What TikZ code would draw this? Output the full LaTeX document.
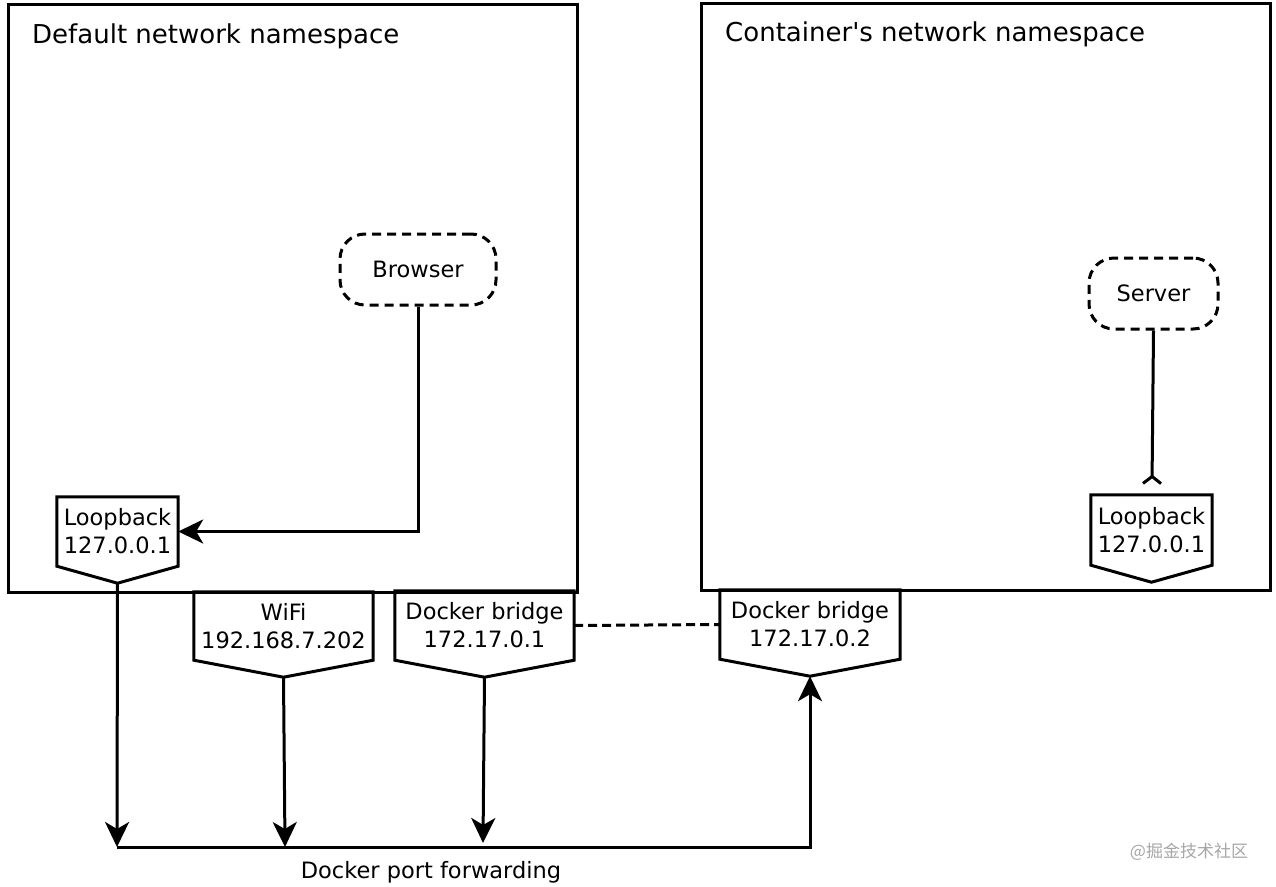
\documentclass[tikz,border=0pt]{standalone}
\usepackage{fontspec}
\setmainfont{DejaVu Sans}[Ligatures=TeXOff]
\newfontfamily\cjkfont{Noto Sans CJK SC}
\usetikzlibrary{arrows.meta}
\tikzset{
  nsbox/.style={draw, line width=3pt, inner sep=0pt},
  title/.style={anchor=base west, inner sep=0pt, font=\fontsize{26}{30}\selectfont},
  proc/.style={draw, dashed, dash pattern=on 9pt off 6pt, line width=3pt, rounded corners=25pt, inner sep=0pt, font=\fontsize{22.5}{27}\selectfont},
  iface/.style={inner sep=0pt, align=center, font=\fontsize{22.5}{28}\selectfont},
  ifline/.style={line width=3pt, line join=miter},
  conn/.style={line width=3pt},
  arr/.style={conn, -{Stealth[length=25pt,width=24pt,inset=7pt]}},
}
\newcommand{\ifoutline}[1]{%
  \draw[ifline] (#1.north west) -- (#1.north east) -- (#1.south east) -- ([yshift=-17pt]#1.south) -- (#1.south west) -- cycle;
  \coordinate (#1-tip) at ([yshift=-17pt]#1.south);}
\begin{document}
\begin{tikzpicture}[x=1pt,y=-1pt]
\useasboundingbox (0,0) rectangle (1276,886);
% namespaces
\node[nsbox, minimum width=569pt, minimum height=588pt] (defns) at (292.5,298) {};
\node[nsbox, minimum width=569pt, minimum height=587pt] (conns) at (985.5,296.5) {};
\node[title] (deftitle) at (32,43) {Default network namespace};
\node[title] (contitle) at (725,41) {Container's network namespace};
% processes
\node[proc, minimum width=156pt, minimum height=71pt] (browser) at (418,269.5) {Browser};
\node[proc, minimum width=129pt, minimum height=71pt] (server) at (1153.5,293.5) {Server};
% interfaces
\node[iface, minimum width=121pt, minimum height=69pt] (lb1) at (117.5,531.5) {Loopback\\127.0.0.1};
\node[iface, minimum width=121pt, minimum height=70pt] (lb2) at (1151.5,530) {Loopback\\127.0.0.1};
\node[iface, minimum width=179pt, minimum height=68pt] (wifi) at (283.5,626) {WiFi\\192.168.7.202};
\node[iface, minimum width=179pt, minimum height=69pt] (br1) at (484.5,625.5) {Docker bridge\\172.17.0.1};
\node[iface, minimum width=180pt, minimum height=69pt] (br2) at (810,624.5) {Docker bridge\\172.17.0.2};
\ifoutline{lb1}
\ifoutline{lb2}
\ifoutline{wifi}
\ifoutline{br1}
\ifoutline{br2}
% coordinates
\coordinate (busleft) at (117,847);
\coordinate (buswifi) at (285,847);
\coordinate (busbr1) at (483,843);
\coordinate (busright) at (810,847);
\coordinate (srvend) at (1152,485);
% connectors
\draw[arr] (browser.south) |- (lb1.east);
\draw[conn, -{Straight Barb[reversed,length=7pt,width=18pt]}] (server.south) -- (srvend);
\draw[arr] (lb1-tip) -- (busleft);
\draw[arr] (wifi-tip) -- (buswifi);
\draw[arr] (br1-tip) -- (busbr1);
\draw[arr] (busleft) -- (busright) -- (br2-tip);
\draw[conn, dash pattern=on 9pt off 5pt] (br1.east) -- (br2.west);
% labels
\node[font=\fontsize{22.5}{27}\selectfont, inner sep=0pt] (fwd) at (431,872) {Docker port forwarding};
\node[text=black!35, inner sep=0pt] (wm) at (1189,852) {\cjkfont\fontsize{17}{20}\selectfont @掘金技术社区};
\end{tikzpicture}
\end{document}
